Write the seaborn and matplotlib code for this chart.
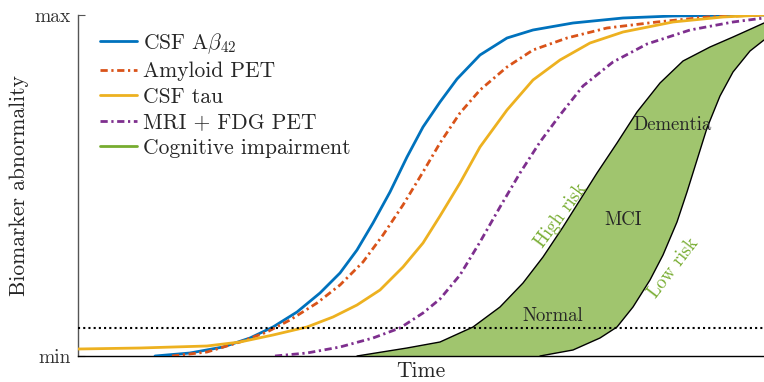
import numpy as np
import pandas as pd
import seaborn as sns
import matplotlib
matplotlib.use("Agg")
import matplotlib.pyplot as plt
from matplotlib.lines import Line2D

# ---- data (time units 0-686, abnormality units 0-341 = min..max) ----
abeta_t = [77, 112, 145, 172, 195, 219, 242, 262, 279, 295, 312, 329, 345, 362, 379, 402, 429, 455, 495, 545, 595, 662, 686]
abeta_y = [0, 3, 9, 18, 29, 44, 63, 83, 106, 133, 164, 199, 229, 254, 277, 301, 318, 326, 333, 338, 340, 341, 341]

amyloid_t = [94, 129, 162, 189, 212, 239, 262, 285, 305, 325, 345, 362, 382, 402, 429, 455, 489, 529, 579, 629, 686]
amyloid_y = [0, 4, 14, 24, 36, 53, 71, 94, 121, 151, 184, 213, 243, 266, 289, 306, 318, 328, 334, 339, 341]

tau_t = [0, 62, 129, 162, 195, 229, 255, 279, 302, 325, 345, 362, 382, 402, 429, 455, 482, 512, 545, 595, 645, 686]
tau_y = [7, 8, 10, 14, 21, 29, 39, 51, 66, 89, 113, 140, 173, 209, 246, 276, 296, 313, 324, 334, 339, 341]

mri_t = [197, 229, 262, 295, 322, 345, 362, 382, 402, 422, 442, 462, 482, 505, 535, 569, 612, 655, 686]
mri_y = [0, 3, 9, 18, 28, 43, 57, 81, 114, 149, 183, 214, 241, 270, 294, 312, 326, 334, 338]

high_t = [279, 329, 362, 395, 422, 445, 465, 485, 502, 519, 539, 559, 582, 605, 632, 655, 675, 686]
high_y = [0, 8, 14, 29, 49, 73, 99, 129, 156, 183, 213, 244, 273, 295, 309, 319, 328, 333]

low_t = [462, 495, 522, 539, 555, 572, 585, 599, 609, 619, 629, 642, 655, 672, 686]
low_y = [0, 6, 18, 29, 49, 76, 101, 134, 164, 196, 228, 260, 284, 305, 316]

threshold = 28
y_min, y_max = 0, 341
t_min, t_max = 0, 686
labels = ["CSF A$\\beta_{42}$", "Amyloid PET", "CSF tau", "MRI + FDG PET", "Cognitive impairment"]
colors = ["#0072BD", "#D95319", "#EDB120", "#7E2F8E", "#77AC30"]

sns.set_theme(style="white")
plt.rcParams["font.family"] = ["cmr10", "DejaVu Serif"]
plt.rcParams["mathtext.fontset"] = "cm"
plt.rcParams["axes.unicode_minus"] = False
plt.rcParams["axes.formatter.use_mathtext"] = True

dashdot = (0, (2.6, 1.3, 0.8, 1.3))

fig = plt.figure(figsize=(7.64, 3.82), dpi=100)
ax = fig.add_axes([78 / 764, 1 - 356 / 382, 1 - 78 / 764, (356 - 15) / 382])

# cognitive impairment band
poly_t = high_t + low_t[::-1]
poly_y = high_y + low_y[::-1]
ax.fill(poly_t, poly_y, color="#a0c56e", lw=0, zorder=1)
sns.lineplot(x=high_t, y=high_y, ax=ax, color="black", lw=1.0, zorder=2)
sns.lineplot(x=low_t, y=low_y, ax=ax, color="black", lw=1.0, zorder=2)

series = [(abeta_t, abeta_y, "-"), (amyloid_t, amyloid_y, dashdot), (tau_t, tau_y, "-"), (mri_t, mri_y, dashdot)]
for (t, y, ls), c in zip(series, colors):
    sns.lineplot(x=t, y=y, ax=ax, color=c, lw=2.0, linestyle=ls, zorder=3,
                 solid_joinstyle="round", dash_joinstyle="round")

ax.axhline(threshold, color="black", ls=(0, (1, 1.5)), lw=1.5, zorder=4)

ax.set_xlim(t_min, t_max)
ax.set_ylim(y_min, y_max)
ax.set_xticks([])
ax.set_yticks([y_min, y_max])
ax.set_yticklabels(["min", "max"], fontsize=14, color="#333333")
ax.tick_params(axis="y", direction="in", length=5, width=0.8, color="#555555", pad=5, left=True)
ax.set_xlabel("Time", fontsize=15.5, labelpad=4)
ax.set_ylabel("Biomarker abnormality", fontsize=15.5, labelpad=4)
for s in ["top", "right"]:
    ax.spines[s].set_visible(False)
ax.spines["left"].set_color("#555555")
ax.spines["left"].set_linewidth(1.0)
ax.spines["bottom"].set_color("black")
ax.spines["bottom"].set_linewidth(1.0)

# annotations
green = "#77AC30"
ax.text(595, 231, "Dementia", fontsize=13.5, ha="center", va="center", zorder=5)
ax.text(545, 136, "MCI", fontsize=13.5, ha="center", va="center", zorder=5)
ax.text(475, 40, "Normal", fontsize=13.5, ha="center", va="center", zorder=5)
ax.text(483, 140, "High risk", fontsize=13.5, color=green, rotation=53.5, ha="center", va="center", zorder=5)
ax.text(596, 88, "Low risk", fontsize=13.5, color=green, rotation=52.5, ha="center", va="center", zorder=5)

handles = [
    Line2D([], [], color=colors[0], lw=2, ls="-"),
    Line2D([], [], color=colors[1], lw=2, ls=dashdot),
    Line2D([], [], color=colors[2], lw=2, ls="-"),
    Line2D([], [], color=colors[3], lw=2, ls=dashdot),
    Line2D([], [], color=colors[4], lw=2, ls="-"),
]
ax.legend(handles, labels, loc="upper left", bbox_to_anchor=(0.032, 0.953), frameon=False,
          fontsize=15.5, handlelength=1.72, handletextpad=0.28, labelspacing=0.28,
          borderaxespad=0, borderpad=0)

fig.savefig("out.png", dpi=100)
